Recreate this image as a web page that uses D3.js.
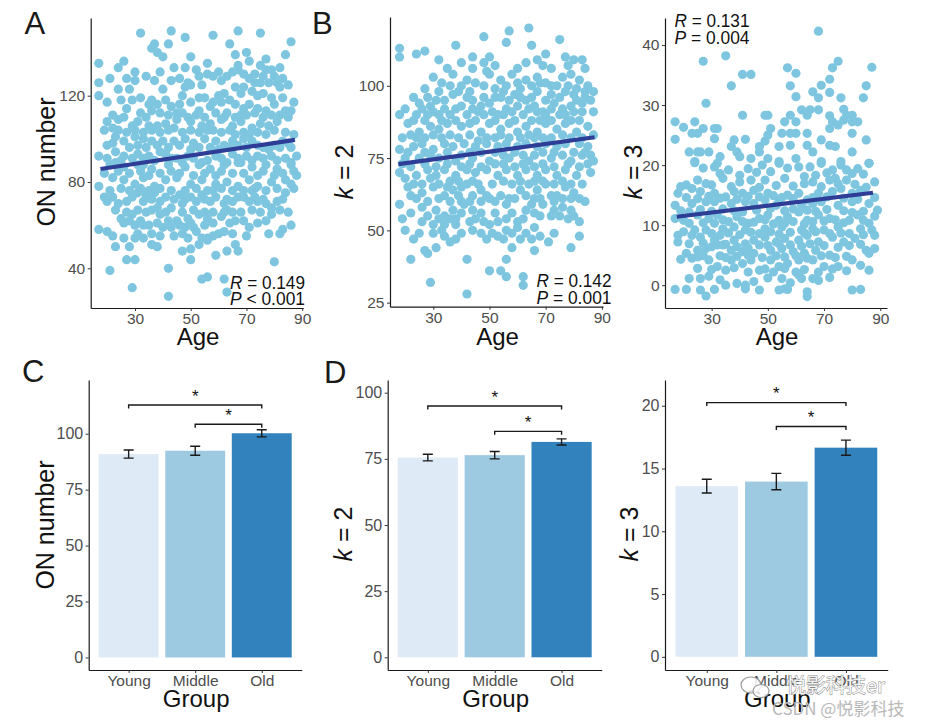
<!DOCTYPE html>
<html><head><meta charset="utf-8">
<script src="https://cdn.jsdelivr.net/npm/d3@7"></script>
<style>body{margin:0;background:#fff} svg{display:block}</style>
</head><body><svg id="c" width="925" height="727"></svg>
<script>
// ---------- data ----------
const ageTicks = [30, 50, 70, 90];
const groups = ["Young", "Middle", "Old"];

const scatterON = [
[32,149],[43,150],[48,147],[58,148],[67,150],[75,149],[86,145],
[37,144],[36,142],[42,144],[38,140],[40,138],[50,138],[64,144],[66,139],[70,140],[84,139],[77,137],[17,135],[24,133],[26,136],[44,133],[48,133],[56,135],[67,134],[71,136],
[30,131],[27,128],[30,127],[17,126],[37,127],[49,126],[50,125],[54,125],[56,130],[58,129],[63,129],[65,131],[67,132],[69,130],[73,130],[77,132],[79,132],[80,129],[83,128],[73,126],[75,126],[78,126],
[17,120],[24,123],[28,123],[40,123],[47,120],[48,124],[55,119],[60,120],[62,121],[66,124],[68,121],[69,124],[72,122],[74,120],[76,121],[82,124],[83,119],[32,119],[36,118],
[25,118],[27,114],[35,116],[38,116],[43,115],[46,116],[50,117],[53,113],[57,115],[61,117],[66,116],[69,114],[71,116],[74,114],[77,113],[80,116],[84,113],[86,113],[32,112],[39,112],[47,112],[63,112],[68,111],[79,111],
[20,108],[24,109],[29,106],[31,108],[35,106],[38,106],[41,107],[45,109],[50,108],[54,106],[57,107],[61,109],[65,106],[68,108],[72,105],[75,107],[78,106],[81,108],[24,104],[44,105],[56,104],[69,103],
[23,101],[26,99],[30,101],[33,100],[36,99],[40,99],[44,99],[48,100],[51,98],[55,100],[59,99],[62,97],[65,99],[69,100],[72,99],[76,96],[80,97],[83,99],[86,96],
[17,92],[23,94],[26,92],[31,93],[35,92],[39,94],[43,91],[49,92],[54,89],[59,92],[65,93],[68,89],[74,92],[79,92],[84,91],[86,89],[23,89],[33,88],
[21,88],[26,87],[31,88],[36,86],[42,88],[48,87],[53,88],[57,86],[62,88],[67,89],[72,87],[77,88],[81,86],[86,88],[87,85],
[17,78],[22,82],[26,81],[30,79],[33,82],[37,78],[41,81],[45,82],[50,79],[54,81],[56,76],[59,79],[63,80],[67,78],[71,81],[74,78],[79,80],[84,81],[86,79],[72,76],[84,75],
[19,73],[24,70],[27,71],[31,75],[34,74],[37,75],[39,71],[44,72],[47,70],[50,73],[54,74],[57,71],[62,70],[65,71],[67,73],[71,71],[74,71],[77,70],[79,68],[20,71],
[25,63],[29,65],[32,62],[36,67],[39,65],[43,68],[45,62],[49,63],[53,65],[56,63],[61,64],[63,67],[66,62],[79,65],[26,61],
[17,58],[20,57],[30,60],[33,60],[36,56],[40,59],[43,59],[48,59],[51,59],[54,54],[56,54],[60,56],[71,59],[83,58],[82,56],[26,54],[30,54],[33,54],[39,55],[49,54],
[23,50],[28,50],[36,51],[38,50],[47,48],[50,49],[53,51],[56,53],[59,46],[63,48],[66,51],[67,48],[27,44],[30,44],[50,44],[80,43],
[21,39],[42,40],[54,35],[56,36],[62,35],[29,31],[42,27],[63,29],
[20,117],[29,118],[41,118],[53,119],[58,117],[64,118],[79,119],[87,117],
[22,111],[26,110],[34,110],[36,113],[42,111],[45,112],[49,110],[52,111],[55,110],[59,112],[62,110],[66,110],[70,111],[73,112],[76,110],[82,111],[85,110],
[19,104],[22,105],[27,103],[30,104],[33,103],[36,104],[39,103],[42,104],[47,103],[50,104],[53,103],[58,104],[61,103],[64,104],[66,102],[71,102],[74,103],[77,102],[80,104],[84,103],[87,102],
[20,97],[22,98],[28,96],[31,97],[34,96],[38,97],[42,96],[46,97],[50,95],[53,96],[57,96],[60,95],[64,96],[67,97],[70,96],[74,97],[78,95],[82,96],[85,98],
[20,91],[25,90],[29,91],[33,91],[37,90],[41,93],[45,91],[47,89],[51,91],[56,90],[61,91],[63,89],[67,91],[70,92],[72,90],[76,91],[81,90],[88,92],
[19,84],[24,85],[28,84],[32,85],[35,83],[39,84],[43,85],[46,84],[51,83],[55,84],[59,83],[61,85],[65,84],[69,84],[74,83],[76,85],[80,83],[83,84],[88,83],
[21,76],[25,77],[28,76],[32,77],[35,76],[39,77],[43,76],[48,76],[52,77],[58,76],[61,77],[65,76],[69,76],[73,77],[77,76],[81,77],[87,77],
[22,73],[29,73],[33,71],[36,72],[41,73],[46,74],[48,72],[52,71],[55,72],[59,73],[63,72],[69,73],[73,73],[76,72],[81,71],[83,72],
[23,67],[27,66],[31,67],[34,66],[38,68],[41,66],[47,66],[51,67],[55,66],[58,66],[62,66],[65,66],[68,66],[72,67],[75,66],[82,67],[85,66],
[28,62],[35,60],[38,61],[42,62],[46,60],[50,61],[55,60],[58,61],[64,61],[69,62],[74,61],[77,62],[86,60],
[22,55],[31,56],[44,55],[47,56],[52,57],[58,55],[62,57],[65,56],[70,55],[78,56],
[21,128],[34,129],[43,127],[46,128],[53,129],[61,127],[71,128],[76,129],[81,126],[85,125],[39,131],[52,132],[60,131],[75,134],[82,133]
];

const scatterK2 = [
[18,113],[18,110],[24,111],[27,112],[32,109],[38,114],[48,117],[56,115],[57,119],[64,120],[65,114],[75,116],[67,109],[70,111],[69,107],[77,110],[80,109],[83,109],[40,108],[44,110],[44,106],[48,108],[50,110],[49,105],
[30,103],[27,99],[32,98],[37,104],[36,100],[40,100],[42,102],[43,98],[48,100],[50,104],[54,102],[56,100],[58,104],[60,101],[63,102],[67,103],[70,101],[74,100],[76,103],[79,104],[82,102],[85,100],[59,97],[67,98],[72,97],[77,98],[80,97],
[18,90],[25,94],[29,93],[34,95],[37,97],[40,93],[44,95],[47,93],[50,94],[54,96],[56,92],[60,93],[63,95],[66,93],[69,91],[73,94],[76,92],[79,93],[83,94],[86,95],[24,90],[28,90],[32,90],[36,90],[42,90],[48,90],[53,90],[62,90],[70,90],[77,90],
[21,87],[25,84],[29,86],[32,85],[35,87],[40,86],[43,87],[47,84],[50,87],[54,85],[57,87],[60,84],[63,86],[67,84],[70,87],[74,85],[77,87],[81,84],[85,86],[22,83],[30,83],[43,83],[54,83],[64,83],[76,83],
[18,78],[23,79],[26,80],[30,78],[34,80],[37,79],[41,80],[45,79],[49,80],[53,79],[56,80],[60,79],[63,80],[67,79],[70,80],[74,79],[77,80],[82,80],[85,79],[86,76],[87,74],[20,75],[25,75],[32,75],[38,74],[44,75],[50,74],[57,75],[64,74],[72,75],[79,74],[83,76],
[18,70],[20,68],[23,66],[24,69],[28,71],[31,69],[34,71],[38,69],[42,71],[45,70],[49,71],[53,69],[56,71],[60,69],[63,71],[67,69],[70,71],[74,69],[77,71],[81,69],[86,70],[29,68],[36,67],[44,67],[55,67],[66,67],[76,67],
[26,63],[30,65],[34,62],[37,64],[40,65],[44,62],[47,64],[50,61],[54,62],[57,61],[61,64],[63,62],[67,64],[70,66],[74,62],[77,65],[80,63],[82,61],[79,61],[24,61],[40,60],[47,60],[66,61],[73,60],
[18,59],[26,58],[31,57],[34,55],[37,57],[38,54],[41,59],[44,57],[47,56],[50,52],[53,53],[56,54],[60,53],[63,57],[66,56],[69,59],[73,57],[76,58],[79,57],[82,53],[78,54],[19,54],[26,53],[30,52],[34,52],[38,52],[43,53],
[20,50],[23,47],[34,48],[36,46],[38,47],[47,49],[49,47],[51,49],[55,47],[56,50],[60,51],[63,49],[65,47],[66,51],[71,46],[82,48],[58,44],[66,43],[79,44],[27,43],[31,44],
[22,40],[28,42],[42,40],[56,40],[50,36],[54,36],[56,34],[62,34],[62,31],[29,32],[42,28],
[35,106],[52,107],[60,106],[72,106],[78,107],[84,106],[63,108],
[33,101],[39,98],[45,101],[52,99],[55,98],[61,99],[65,100],[68,101],[72,100],[78,100],[81,99],[84,98],[87,98],
[23,96],[28,96],[31,95],[42,96],[48,96],[52,96],[57,95],[61,96],[65,96],[70,95],[75,96],[81,95],[84,96],
[20,92],[26,92],[30,91],[34,92],[38,92],[44,92],[46,91],[51,91],[55,90],[58,91],[64,92],[67,91],[72,92],[75,90],[80,91],[83,91],[87,91],
[23,88],[27,88],[33,88],[38,88],[45,88],[52,88],[59,88],[65,88],[68,88],[72,88],[79,88],[82,88],
[19,82],[24,82],[27,82],[33,82],[36,83],[39,82],[46,81],[49,82],[52,82],[57,82],[61,82],[66,82],[69,82],[72,82],[79,82],[83,82],[87,83],
[21,77],[27,77],[29,76],[35,77],[40,76],[43,77],[47,77],[52,77],[55,76],[59,77],[62,76],[66,76],[69,77],[73,77],[76,76],[80,77],[84,77],
[19,73],[22,72],[27,73],[31,72],[35,73],[40,72],[43,73],[47,72],[52,73],[55,73],[59,72],[62,73],[66,72],[69,73],[73,72],[78,73],[82,72],[85,73],
[21,65],[26,66],[32,66],[35,65],[39,67],[42,66],[46,66],[51,66],[58,66],[61,67],[64,66],[69,67],[73,66],[79,66],[83,66],
[22,62],[28,60],[32,61],[36,60],[39,62],[43,60],[49,62],[52,60],[56,59],[59,61],[65,59],[68,61],[72,62],[76,61],[84,60],
[22,56],[28,55],[32,54],[36,54],[40,56],[45,54],[48,53],[52,56],[58,56],[62,54],[68,55],[72,55],[75,55],[80,55],
[25,49],[30,49],[33,50],[40,49],[44,50],[53,48],[58,49],[61,47],[68,48],[73,49]
];

const scatterK3 = [
[68,42.3],[27,37.3],[35,38.2],[41,35.1],[44,35.1],[37,33.2],[28,30.3],
[57,36.2],[60,35.3],[58,33.2],[60,31.4],[66,32.2],[68,31.2],[72,34.3],[69,33.3],[72,32.1],[73,36.2],[75,37.3],[76,31.2],[87,36.3],[85,33.2],[84,31.2],
[41,28.3],[49,28.3],[50,28.3],[58,28.3],[62,29.2],[65,29.2],[68,29.2],[64,28.3],[72,28.2],[77,29.3],[78,28.3],[80,28.3],
[17,27.2],[20,26.3],[24,27.2],[23,25.3],[27,26.1],[31,26.1],[32,26.1],[31,24.4],[17,24.3],[25,25.3],[38,24.2],[42,24.3],[37,23.1],[39,22.2],[51,26.1],[50,25],[49,24],[47,23.1],[55,25.3],[56,27.2],[60,27.2],[58,25.3],[60,25.3],[64,25.3],[58,23.3],[54,23.1],[64,23.3],[69,24.2],[72,26.1],[73,27.2],[75,26.7],[77,27.5],[80,27.2],[82,27.2],[80,25.3],[72,23.3],[74,23.1],[85,24.2],[80,22.2],[22,22.2],[25,22.2],[26,22.2],[29,22.2],[33,21.4],[40,21.4],[44,21.1],[47,22.2],[50,21.1],[60,21.1],[66,22.2],[69,20.6],[76,20.6],[86,20.3],[24,20.6],[32,20.3],[54,20.6],
[24,20.4],[31,19.7],[36,19.2],[40,18.3],[43,19.4],[48,20.0],[51,18.9],[54,20.3],[61,19.7],[63,18.1],[67,18.3],[69,20.3],[73,19.2],[76,20.0],[80,18.6],[82,19.4],[86,20.3],[21,16.7],[25,17.5],[28,16.9],[34,17.8],[44,17.5],[49,17.5],[56,17.8],[66,17.2],[72,17.5],[75,16.9],[78,17.5],[88,17.2],
[18,15.3],[23,16.1],[26,15.6],[31,15.3],[35,14.7],[38,15.6],[41,15.3],[45,15.8],[47,14.7],[50,15.3],[54,14.2],[57,15.0],[61,15.3],[64,14.2],[68,15.3],[73,15.6],[76,16.1],[80,15.3],[83,15.8],[17,13.3],[23,13.6],[28,13.9],[31,13.9],[37,13.6],[42,13.9],[45,13.6],[49,14.2],[53,13.3],[62,13.3],[66,13.6],[69,13.9],[75,13.3],[80,13.9],[86,13.6],[89,12.5],
[17,11.1],[22,10.3],[25,11.7],[29,11.1],[32,11.7],[36,10.6],[39,11.4],[43,10.3],[47,11.1],[50,11.7],[54,10.8],[57,11.4],[61,12.2],[64,10.8],[68,11.7],[72,11.1],[75,9.7],[79,10.8],[82,11.7],[86,10.3],[87,9.2],[28,9.2],[34,9.4],[38,9.7],[42,9.2],[49,9.4],[55,9.7],[62,9.2],[66,9.4],[70,9.2],[83,9.4],
[18,8.3],[18,7.2],[23,8.3],[26,8.0],[31,7.5],[34,6.7],[38,7.5],[42,6.9],[45,7.5],[49,8.0],[53,7.2],[56,7.8],[61,7.5],[64,8.3],[68,7.2],[73,8.0],[77,7.2],[81,7.8],[88,8.3],[88,6.1],[21,5.3],[25,5.8],[28,6.1],[32,6.7],[37,5.8],[41,5.6],[45,5.3],[51,5.8],[55,6.1],[59,5.6],[63,5.3],[67,5.8],[72,5.0],[85,5.8],[86,5.3],
[19,4.3],[25,4.7],[29,4.2],[32,3.1],[37,4.2],[41,3.6],[44,4.2],[47,2.5],[51,4.2],[54,3.1],[57,3.6],[61,4.2],[66,4.2],[70,3.1],[75,3.1],[80,4.2],[83,3.3],[86,2.5],[35,2.5],[60,2.2],
[22,1.1],[26,1.1],[29,1.5],[35,0.0],[39,0.3],[42,0.0],[42,-0.6],[55,1.1],[56,-0.6],[61,1.7],[62,1.1],[66,1.1],[17,-0.7],[21,-0.7],[26,-0.8],[28,-1.8],[31,-0.7],[47,-0.8],[54,-0.8],[57,-0.7],[64,-1.1],[64,-1.9],[80,-0.8],[83,-0.7],
[27,19.5],[33,18.6],[46,18.8],[57,19.5],[65,19.7],[71,18.7],[78,19.2],[84,18.5],
[19,16.4],[30,16.7],[37,16.4],[40,17.2],[47,16.3],[53,16.6],[59,16.5],[63,16.9],[69,16.4],[74,17.8],[81,16.8],[85,16.3],
[21,14.6],[25,14.4],[29,14.8],[33,14.5],[39,14.3],[43,14.8],[52,14.9],[55,14.6],[59,14.4],[66,14.6],[71,14.7],[77,14.5],[82,14.3],[88,14.6],
[19,12.4],[22,12.2],[26,12.6],[30,12.3],[34,12.7],[38,12.4],[41,12.2],[46,12.5],[51,12.8],[56,12.4],[59,12.7],[64,12.5],[67,12.3],[71,12.6],[77,12.4],[80,12.1],[84,12.3],[88,11.5],
[20,10.8],[27,10.4],[31,10.3],[34,10.9],[41,10.6],[45,10.5],[49,10.9],[52,10.2],[56,10.3],[59,10.6],[63,10.2],[66,10.6],[70,10.7],[74,10.9],[77,10.4],[84,10.8],
[20,8.9],[24,9.2],[30,8.6],[33,8.3],[36,8.7],[40,8.4],[44,8.8],[47,8.6],[51,8.9],[54,8.5],[58,8.8],[63,8.7],[67,8.9],[72,8.6],[76,8.7],[79,8.6],[84,8.4],
[22,6.9],[27,7.0],[30,6.4],[35,6.8],[39,6.4],[43,6.2],[47,6.7],[50,6.6],[54,6.9],[58,6.7],[62,6.5],[65,6.9],[70,6.6],[75,6.3],[79,6.6],[83,6.8],
[23,4.5],[27,4.9],[33,4.9],[35,4.6],[39,4.8],[43,5.0],[48,4.6],[53,4.9],[56,4.7],[60,4.9],[64,4.5],[69,4.9],[74,4.6],[78,4.8],
[25,2.8],[30,2.6],[38,2.9],[43,2.2],[49,2.7],[52,2.2],[56,2.8],[63,2.6],[68,2.2],[73,2.7],[78,2.4],
[33,0.9],[45,0.6],[50,1.2],[58,0.4],[68,0.8],[72,1.3]
];

// fitted regression lines (end points)
const fitON = [[17.6, 86.0], [87.4, 99.5]];
const fitK2 = [[17.6, 72.9], [87.4, 82.2]];
const fitK3 = [[17.6, 11.4], [87.4, 15.4]];

const statON = [["R", " = 0.149"], ["P", " < 0.001"]];
const statK2 = [["R", " = 0.142"], ["P", " = 0.001"]];
const statK3 = [["R", " = 0.131"], ["P", " = 0.004"]];

// group means and standard errors
const meanON = [90.9, 92.4, 100.2];
const seON = [1.8, 2.0, 1.6];
const meanK2 = [75.5, 76.4, 81.4];
const seK2 = [1.25, 1.4, 1.15];
const meanK3 = [13.6, 13.96, 16.66];
const seK3 = [0.55, 0.65, 0.6];

// significance brackets: [from, to, height]
const sigON = [["Young", "Old", 112.8], ["Middle", "Old", 104.2]];
const sigK2 = [["Young", "Old", 95.0], ["Middle", "Old", 85.4]];
const sigK3 = [["Young", "Old", 20.25], ["Middle", "Old", 18.35]];

const ticksON = [40, 80, 120];
const ticksK2 = [25, 50, 75, 100];
const ticksK3 = [0, 10, 20, 30, 40];
const barTicksON = [0, 25, 50, 75, 100];
const barTicksK2 = [0, 25, 50, 75, 100];
const barTicksK3 = [0, 5, 10, 15, 20];

const barColors = ["#DEEBF7", "#9ECAE1", "#3182BD"];

// ---------- drawing ----------
const FONT = '"Liberation Sans", Arial, Helvetica, sans-serif';
const svg = d3.select("#c");
svg.append("rect").attr("width", 925).attr("height", 727).attr("fill", "#fff");

function styleAxis(a, fs) {
  a.attr("font-family", FONT).attr("font-size", fs);
  a.select(".domain").attr("stroke", "#1a1a1a").attr("stroke-width", 1.2);
  a.selectAll(".tick line").attr("stroke", "#333").attr("stroke-width", 1);
  a.selectAll(".tick text").attr("fill", "#4d4d4d");
}

function yTitle(g, txt, x, y, italicK) {
  const t = g.append("text").attr("transform", `translate(${x},${y}) rotate(-90)`)
    .attr("text-anchor", "middle").attr("font-family", FONT).attr("font-size", 25).attr("fill", "#111");
  if (italicK) {
    t.append("tspan").attr("font-style", "italic").text("k");
    t.append("tspan").text(txt);
  } else t.text(txt);
}

function xTitle(g, txt, x, y) {
  g.append("text").attr("x", x).attr("y", y).attr("text-anchor", "middle")
    .attr("font-family", FONT).attr("font-size", 24).attr("fill", "#111").text(txt);
}

function panelLabel(txt, x, y) {
  svg.append("text").attr("x", x).attr("y", y).attr("font-family", FONT)
    .attr("font-size", 31).attr("fill", "#1a1a1a").text(txt);
}

function scatter(cfg) {
  const g = svg.append("g");
  const x = d3.scaleLinear().domain(cfg.xDom).range(cfg.xR);
  const y = d3.scaleLinear().domain(cfg.yDom).range(cfg.yR);
  g.append("g").selectAll("circle").data(cfg.data).join("circle")
    .attr("cx", d => x(d[0])).attr("cy", d => y(d[1])).attr("r", 4.6).attr("fill", "#7EC6E0");
  g.append("path").datum(cfg.fit)
    .attr("d", d3.line().x(d => x(d[0])).y(d => y(d[1])))
    .attr("stroke", "#2E3D96").attr("stroke-width", 4.2).attr("fill", "none");
  const xa = g.append("g").attr("transform", `translate(0,${cfg.yR[0]})`)
    .call(d3.axisBottom(x).tickValues(ageTicks).tickSize(3).tickPadding(2.4).tickSizeOuter(0));
  styleAxis(xa, 15.5);
  const ya = g.append("g").attr("transform", `translate(${cfg.xR[0]},0)`)
    .call(d3.axisLeft(y).tickValues(cfg.yTicks).tickSize(3).tickPadding(2.5).tickSizeOuter(0));
  styleAxis(ya, 15.5);
  cfg.stat.forEach((s, i) => {
    const t = g.append("text").attr("x", cfg.statX).attr("y", cfg.statY + i * 16.7)
      .attr("text-anchor", cfg.statAnchor).attr("font-family", FONT).attr("font-size", 18.5)
      .attr("fill", "#111").attr("textLength", 75).attr("lengthAdjust", "spacingAndGlyphs");
    t.append("tspan").attr("font-style", "italic").text(s[0]);
    t.append("tspan").text(s[1]);
  });
  xTitle(g, "Age", (cfg.xR[0] + cfg.xR[1]) / 2 + 1, 345);
  yTitle(g, cfg.yLabel, cfg.yLabelX, cfg.yLabelY, cfg.italicK);
}

function bars(cfg) {
  const g = svg.append("g");
  const x = d3.scalePoint().domain(groups).range(cfg.xR).padding(0.6);
  const y = d3.scaleLinear().domain(cfg.yDom).range(cfg.yR);
  const bw = x.step() * 0.9;
  g.selectAll("rect.bar").data(groups).join("rect").attr("class", "bar")
    .attr("x", d => x(d) - bw / 2).attr("width", bw)
    .attr("y", (d, i) => y(cfg.mean[i])).attr("height", (d, i) => y(0) - y(cfg.mean[i]))
    .attr("fill", (d, i) => barColors[i]);
  const cap = 5;
  groups.forEach((gname, i) => {
    const cx = x(gname), lo = y(cfg.mean[i] - cfg.se[i]), hi = y(cfg.mean[i] + cfg.se[i]);
    g.append("path").attr("d", `M${cx - cap},${hi}H${cx + cap}M${cx},${hi}V${lo}M${cx - cap},${lo}H${cx + cap}`)
      .attr("stroke", "#1a1a1a").attr("stroke-width", 1.4).attr("fill", "none");
  });
  cfg.sig.forEach(s => {
    const x1 = x(s[0]), x2 = x(s[1]), yy = y(s[2]);
    g.append("path").attr("d", `M${x1},${yy + 3.5}V${yy}H${x2}V${yy + 3.5}`)
      .attr("stroke", "#1a1a1a").attr("stroke-width", 1.4).attr("fill", "none");
    g.append("text").attr("x", (x1 + x2) / 2).attr("y", yy - 3.2).attr("text-anchor", "middle")
      .attr("font-family", FONT).attr("font-size", 17).attr("fill", "#111").text("*");
  });
  const xa = g.append("g").attr("transform", `translate(0,${cfg.yR[0]})`)
    .call(d3.axisBottom(x).tickSize(3).tickPadding(2.4).tickSizeOuter(0));
  styleAxis(xa, 15.5);
  const ya = g.append("g").attr("transform", `translate(${cfg.xR[0]},0)`)
    .call(d3.axisLeft(y).tickValues(cfg.yTicks).tickSize(3).tickPadding(2.5).tickSizeOuter(0));
  styleAxis(ya, 16);
  xTitle(g, "Group", (cfg.xR[0] + cfg.xR[1]) / 2 + 1, 706.5);
  yTitle(g, cfg.yLabel, cfg.yLabelX, cfg.yLabelY, cfg.italicK);
}

scatter({data: scatterON, fit: fitON, xDom: [14.1, 90.4], xR: [90.7, 303.3], yDom: [21.6, 156], yR: [308, 18],
  yTicks: ticksON, stat: statON, statX: 305, statY: 288.5, statAnchor: "end",
  yLabel: "ON number", yLabelX: 55, yLabelY: 162, italicK: false});
scatter({data: scatterK2, fit: fitK2, xDom: [14.6, 90.4], xR: [390, 603], yDom: [23.6, 123.8], yR: [306.7, 17],
  yTicks: ticksK2, stat: statK2, statX: 611.5, statY: 287, statAnchor: "end",
  yLabel: " = 2", yLabelX: 353, yLabelY: 172, italicK: true});
scatter({data: scatterK3, fit: fitK3, xDom: [13.4, 92.4], xR: [665, 887], yDom: [-3.8, 44.5], yR: [308, 18],
  yTicks: ticksK3, stat: statK3, statX: 674.5, statY: 27, statAnchor: "start",
  yLabel: " = 3", yLabelX: 641.5, yLabelY: 172, italicK: true});

bars({mean: meanON, se: seON, sig: sigON, xR: [88.7, 301.7], yDom: [-5.6, 124], yR: [670, 380], yTicks: barTicksON,
  yLabel: "ON  number", yLabelX: 53.5, yLabelY: 525, italicK: false});
bars({mean: meanK2, se: seK2, sig: sigK2, xR: [387.7, 601.7], yDom: [-4.8, 104.8], yR: [670, 380], yTicks: barTicksK2,
  yLabel: " = 2", yLabelX: 351.5, yLabelY: 534, italicK: true});
bars({mean: meanK3, se: seK3, sig: sigK3, xR: [665, 887.7], yDom: [-1.05, 22.05], yR: [670, 380], yTicks: barTicksK3,
  yLabel: " = 3", yLabelX: 638, yLabelY: 534, italicK: true});

panelLabel("A", 24.5, 33.5);
panelLabel("B", 312, 33.5);
panelLabel("C", 22, 382);
panelLabel("D", 324, 383);

// watermark
const wm = svg.append("g");
wm.append("ellipse").attr("cx", 751).attr("cy", 685).attr("rx", 10).attr("ry", 8)
  .attr("fill", "#fff").attr("fill-opacity", 0.85).attr("stroke", "#9a9a9a").attr("stroke-width", 1.2);
wm.append("ellipse").attr("cx", 761).attr("cy", 691).attr("rx", 8).attr("ry", 6.5)
  .attr("fill", "#fff").attr("fill-opacity", 0.85).attr("stroke", "#9a9a9a").attr("stroke-width", 1.2);
wm.append("text").attr("x", 786).attr("y", 693).attr("font-family", '"Noto Sans CJK SC", sans-serif')
  .attr("font-size", 20).attr("fill", "#fff").attr("fill-opacity", 0.9).attr("stroke", "#8a8a8a").attr("stroke-width", 0.9)
  .attr("paint-order", "stroke").text("悦影科技er");
wm.append("text").attr("x", 772).attr("y", 715).attr("font-family", '"Noto Sans CJK SC", sans-serif')
  .attr("font-size", 17).attr("fill", "#b8b8b8").text("CSDN @悦影科技");
</script></body></html>
